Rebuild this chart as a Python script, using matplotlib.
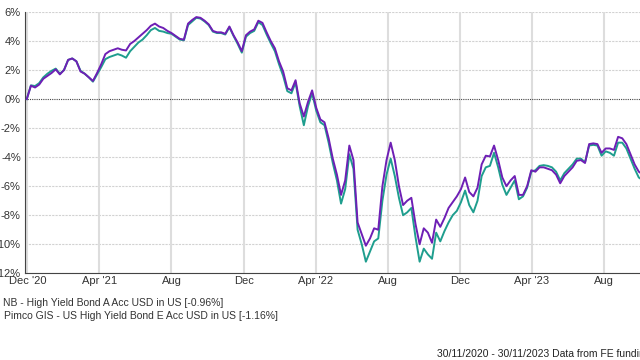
import matplotlib
matplotlib.use("Agg")
import matplotlib.pyplot as plt
import pandas as pd

plt.rcParams['font.family'] = ['Liberation Sans', 'DejaVu Sans']

# Roughly weekly points, 30/11/2020 - 30/11/2023 (cumulative % growth)
dates = pd.date_range("2020-11-30", "2023-11-30", periods=158)

nb = [0.0, 0.92, 0.8, 1.0, 1.4, 1.6, 1.8, 2.05, 1.7, 2.0,
      2.7, 2.8, 2.6, 1.9, 1.75, 1.5, 1.25, 1.8, 2.4, 3.1,
      3.3, 3.4, 3.5, 3.4, 3.35, 3.8, 4.0, 4.25, 4.5, 4.75,
      5.05, 5.2, 5.0, 4.9, 4.7, 4.55, 4.35, 4.15, 4.1, 5.2,
      5.45, 5.65, 5.6, 5.4, 5.15, 4.7, 4.6, 4.6, 4.5, 5.0,
      4.4, 3.9, 3.3, 4.4, 4.65, 4.8, 5.4, 5.25, 4.6, 4.0,
      3.5, 2.6, 1.9, 0.75, 0.6, 1.3, -0.3, -1.2, -0.2, 0.6,
      -0.6, -1.4, -1.6, -2.7, -4.1, -5.2, -6.6, -5.6, -3.2, -4.2,
      -8.5, -9.3, -10.1, -9.6, -8.9, -9.0, -6.0, -4.2, -3.0, -4.2,
      -6.0, -7.3, -7.0, -6.8, -8.6, -10.0, -8.9, -9.2, -9.9, -8.3,
      -8.8, -8.2, -7.5, -7.1, -6.7, -6.2, -5.4, -6.4, -6.7, -6.1,
      -4.5, -3.9, -3.95, -3.2, -4.2, -5.4, -6.0, -5.6, -5.3, -6.6,
      -6.6, -6.0, -4.9, -5.0, -4.7, -4.7, -4.8, -4.9, -5.2, -5.8,
      -5.3, -5.0, -4.7, -4.25, -4.2, -4.4, -3.1, -3.05, -3.1, -3.7,
      -3.4, -3.4, -3.5, -2.6, -2.7, -3.1, -3.8, -4.5, -5.0, -5.2,
      -5.6, -6.2, -5.9, -3.6, -2.6, -1.6, -1.2, -0.96]

pimco = [0.0, 0.95, 0.9, 1.1, 1.5, 1.75, 1.95, 2.1, 1.75, 2.0,
         2.7, 2.8, 2.6, 1.95, 1.75, 1.5, 1.2, 1.7, 2.2, 2.75,
         2.9, 3.0, 3.1, 3.0, 2.85, 3.3, 3.6, 3.9, 4.1, 4.4,
         4.75, 4.9, 4.7, 4.65, 4.55, 4.5, 4.3, 4.1, 4.05, 5.1,
         5.35, 5.6, 5.55, 5.35, 5.1, 4.65, 4.55, 4.55, 4.45, 4.95,
         4.35, 3.8, 3.2, 4.3, 4.55, 4.7, 5.3, 5.1, 4.45, 3.85,
         3.3, 2.4, 1.6, 0.55, 0.4, 1.15, -0.5, -1.8, -0.5, 0.4,
         -0.8, -1.6, -1.8, -3.0, -4.4, -5.6, -7.2, -6.2, -3.8, -4.8,
         -9.0, -10.0, -11.2, -10.5, -9.8, -9.6, -7.0, -5.2, -4.1, -5.3,
         -6.8, -8.0, -7.8, -7.5, -9.5, -11.2, -10.3, -10.7, -11.0, -9.2,
         -9.8, -9.1, -8.5, -8.0, -7.7, -7.1, -6.3, -7.3, -7.8, -7.0,
         -5.3, -4.7, -4.6, -3.7, -4.7, -5.9, -6.6, -6.1, -5.6, -6.9,
         -6.7, -6.1, -5.0, -4.9, -4.6, -4.55, -4.6, -4.7, -5.0, -5.6,
         -5.1, -4.8, -4.5, -4.1, -4.1, -4.35, -3.2, -3.15, -3.2, -3.9,
         -3.6, -3.7, -3.9, -3.0, -3.0, -3.4, -4.1, -4.8, -5.4, -5.6,
         -6.0, -6.6, -6.3, -3.9, -2.9, -1.9, -1.4, -1.16]

labels = ["NB - High Yield Bond A Acc USD in US [-0.96%]",
          "Pimco GIS - US High Yield Bond E Acc USD in US [-1.16%]"]
yticks = [6, 4, 2, 0, -2, -4, -6, -8, -10, -12]
xtick_dates = pd.to_datetime(["2020-12-01", "2021-04-01", "2021-08-01", "2021-12-01",
                              "2022-04-01", "2022-08-01", "2022-12-01", "2023-04-01",
                              "2023-08-01"])
xtick_labels = ["Dec '20", "Apr '21", "Aug", "Dec", "Apr '22", "Aug", "Dec",
                "Apr '23", "Aug"]

fig = plt.figure(figsize=(6.4, 3.6), dpi=100)
# plot area runs past the right edge, as in the original screenshot
ax = fig.add_axes([25 / 640, 86.7 / 360, 651 / 640, 261.3 / 360])

ax.plot(dates, pimco, color="#1f9e8e", lw=1.4, zorder=3)
ax.plot(dates, nb, color="#6e1fb5", lw=1.4, zorder=4)

ax.set_ylim(-12, 6)
ax.set_xlim(pd.Timestamp("2020-11-27"), pd.Timestamp("2023-11-30"))
ax.set_yticks(yticks)
ax.set_yticklabels([f"{v}%" for v in yticks])
ax.set_xticks(xtick_dates)
ax.set_xticklabels(xtick_labels)
ax.tick_params(labelsize=8, length=0, pad=3, colors="#333333")
ax.tick_params(axis="x", pad=2)

for v in yticks:
    if v == 0:
        ax.axhline(0, color="#444444", lw=0.8, ls=(0, (1, 1)), zorder=2)
    else:
        ax.axhline(v, color="#d2d2d2", lw=0.8, ls=(0, (2, 1)), zorder=1)
for d in xtick_dates:
    ax.axvline(d, color="#dddddd", lw=1.5, zorder=1)

for side in ["top", "right"]:
    ax.spines[side].set_visible(False)
ax.spines["left"].set_color("#444444")
ax.spines["bottom"].set_color("#444444")

fig.text(3 / 640, 1 - 303 / 360, labels[0], fontsize=7.5, color="#333333", va="center")
fig.text(4 / 640, 1 - 316 / 360, labels[1], fontsize=7.5, color="#333333", va="center")
fig.text(437 / 640, 1 - 354 / 360, "30/11/2020 - 30/11/2023 Data from FE fundinfo2023",
         fontsize=7.5, color="#222222", va="center")

fig.savefig("out.png", dpi=100)
